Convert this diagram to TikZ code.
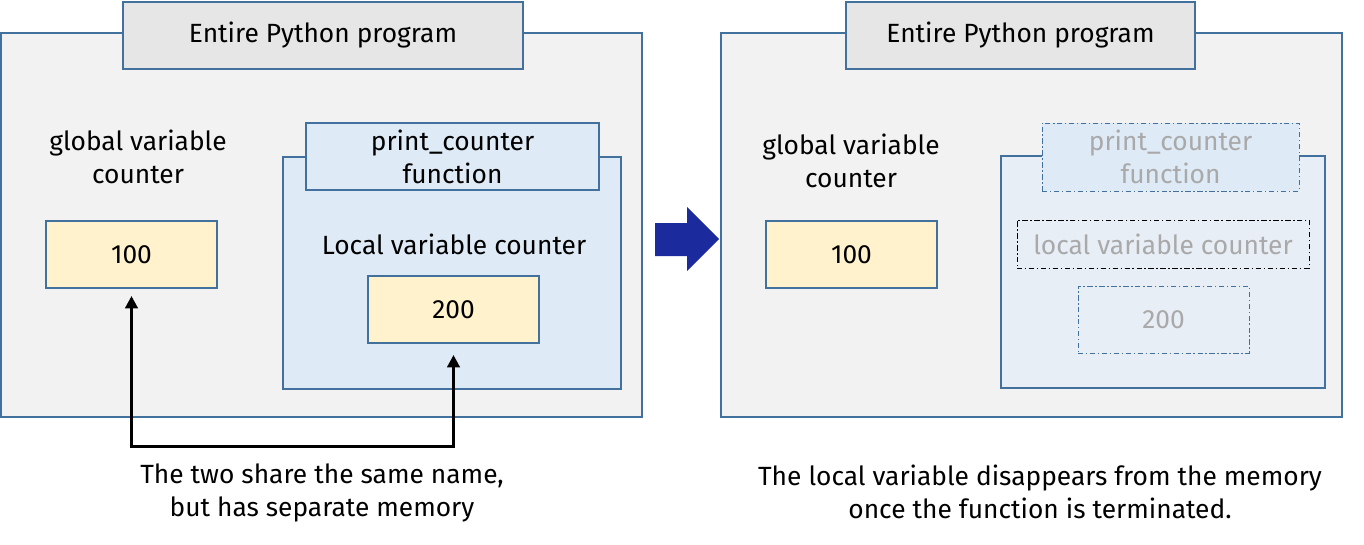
\documentclass[tikz,border=0pt]{standalone}
\usepackage{fontspec}
\setmainfont{Fira Sans}
\usetikzlibrary{arrows.meta}
\definecolor{edgeblue}{HTML}{41719C}
\definecolor{boxgrey}{HTML}{F2F2F2}
\definecolor{titlegrey}{HTML}{E6E6E6}
\definecolor{valyellow}{HTML}{FFF2CC}
\definecolor{funcblue}{HTML}{DEEBF7}
\definecolor{funcfade}{HTML}{E8EEF6}
\definecolor{fadetext}{HTML}{A9A9A9}
\definecolor{arrowblue}{HTML}{1B2A9C}
\begin{document}
\begin{tikzpicture}[x=0.02cm, y=-0.02cm,
    font=\fontsize{15}{18.7}\selectfont,
    box/.style={draw=edgeblue, line width=1.1pt, inner sep=0pt, align=center},
    outer/.style={box, fill=boxgrey, minimum height=7.68cm},
    titlebox/.style={box, fill=titlegrey, minimum height=1.34cm},
    valbox/.style={box, fill=valyellow, minimum width=3.42cm, minimum height=1.34cm},
    funcbox/.style={box, fill=funcblue, minimum height=4.64cm},
    gone/.style={draw=edgeblue, line width=0.5pt,
        dash pattern=on 3pt off 1.5pt on 0.8pt off 1.5pt, inner sep=0pt,
        align=center, text=fadetext},
    label/.style={align=center, inner sep=0pt},
    link/.style={line width=1.7pt, {Triangle[length=7pt,width=7pt]}-{Triangle[length=7pt,width=7pt]},
        shorten <=0.14cm, shorten >=0.22cm}]
    \useasboundingbox (0,0) rectangle (1364,544);

    % Left: before the call ends
    \node (outerL) [outer, minimum width=12.82cm] at (321.5,225) {};
    \node (titleL) [titlebox, minimum width=8cm] at (323,35.5) {Entire Python program};
    \node (globalL) [label] at (138,157) {global variable\\counter};
    \node (valL) [valbox] at (131.5,254.5) {100};
    \node (funcL) [funcbox, minimum width=6.76cm] at (452,273) {};
    \node (ftitleL) [box, fill=funcblue, minimum width=5.86cm, minimum height=1.34cm]
        at (452.5,156.5) {print\_counter\\function};
    \node (localL) [label] at (454,244) {Local variable counter};
    \node (locvalL) [valbox] at (453.5,309.5) {200};
    \coordinate (base) at (300,446);
    \draw[link] (valL.south) |- (base) -| (locvalL.south);
    \node (noteL) [label] at (322,493) {The two share the same name,\\but has separate memory};

    % Arrow between
    \fill[arrowblue] (655,223) -- (687,223) -- (687,207) -- (719,239)
        -- (687,271) -- (687,256) -- (655,256) -- cycle;

    % Right: after the call ends
    \node (outerR) [outer, minimum width=12.42cm] at (1031.5,225) {};
    \node (titleR) [titlebox, minimum width=6.98cm] at (1020.5,35.5) {Entire Python program};
    \node (globalR) [label] at (851,161) {global variable\\counter};
    \node (valR) [valbox] at (851.5,254.5) {100};
    \node (funcR) [box, fill=funcfade, minimum width=6.48cm, minimum height=4.64cm]
        at (1163,272) {};
    \node (ftitleR) [gone, fill=funcblue, minimum width=5.14cm, minimum height=1.36cm]
        at (1170.5,157) {print\_counter\\function};
    \node (localR) [gone, draw=black, minimum width=5.84cm, minimum height=0.96cm]
        at (1163,244) {local variable counter};
    \node (locvalR) [gone, minimum width=3.42cm, minimum height=1.34cm]
        at (1163.5,319.5) {200};
    \node (noteR) [label] at (1040,492)
        {The local variable disappears from the memory\\once the function is terminated.};
\end{tikzpicture}
\end{document}
